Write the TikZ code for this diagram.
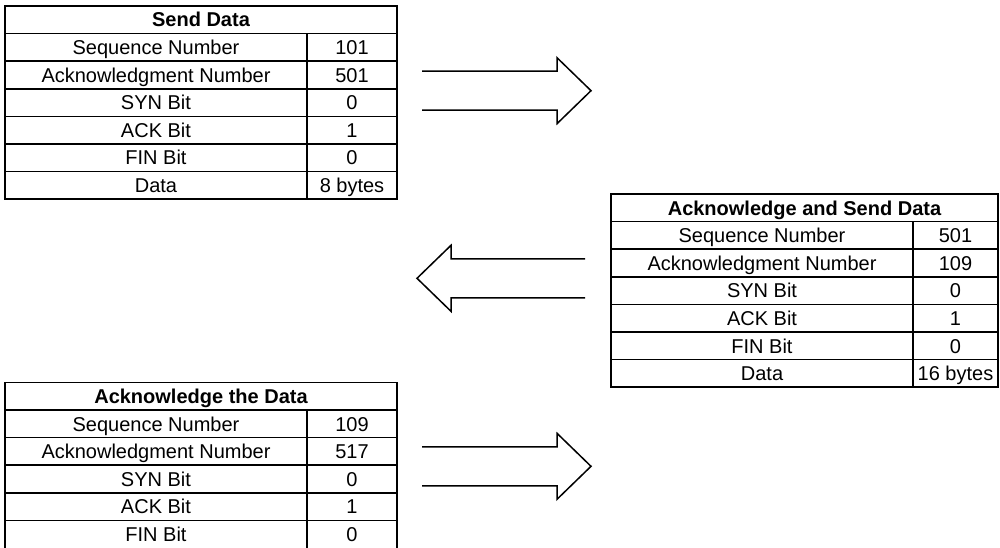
\documentclass[tikz,border=0pt]{standalone}
\usepackage{fontspec}
\setmainfont{Liberation Sans}
\usepackage{tikz}
\tikzset{
  gridline/.style={black, line width=0.75pt},
  arrowline/.style={black, line width=0.75pt, line join=miter},
  celltext/.style={anchor=base, inner sep=0pt, font=\fontsize{10}{12}\selectfont},
  titletext/.style={celltext, font=\fontsize{10}{12}\selectfont\bfseries}
}

\begin{document}
\begin{tikzpicture}[x=0.5pt, y=0.5pt]
    \useasboundingbox (0,0) rectangle (1000,547);
    \clip (0,0) rectangle (1000,547);
    \newcommand{\hollowarrow}[4]{%
      \draw[arrowline] (#1,#4+19.5) -- (#2,#4+19.5) -- (#2,#4+33) -- (#3,#4)
        -- (#2,#4-33) -- (#2,#4-19.5) -- (#1,#4-19.5);%
    }
    % Send Data
    \draw[gridline] (5,541) rectangle (397,347.8);
    \draw[gridline] (307,513.4) -- (307,347.8);
    \foreach \yl in {513.4, 485.8, 458.2, 430.6, 403.0, 375.4}{
      \draw[gridline] (5,\yl) -- (397,\yl);
    }
    \node[titletext] (send-title) at (201,520) {Send Data};
    \foreach \i/\lbl/\val in {1/Sequence Number/101, 2/Acknowledgment Number/501,
        3/SYN Bit/0, 4/ACK Bit/1, 5/FIN Bit/0, 6/Data/8 bytes}{
      \pgfmathsetmacro{\ytik}{520-27.6*\i}
      \node[celltext] (send-lbl\i) at (156,\ytik) {\lbl};
      \node[celltext] (send-val\i) at (352,\ytik) {\val};
    }
    % Acknowledge and Send Data
    \draw[gridline] (611,353) rectangle (998,159.8);
    \draw[gridline] (913,325.4) -- (913,159.8);
    \foreach \yl in {325.4, 297.8, 270.2, 242.6, 215.0, 187.4}{
      \draw[gridline] (611,\yl) -- (998,\yl);
    }
    \node[titletext] (acksend-title) at (804.5,332) {Acknowledge and Send Data};
    \foreach \i/\lbl/\val in {1/Sequence Number/501, 2/Acknowledgment Number/109,
        3/SYN Bit/0, 4/ACK Bit/1, 5/FIN Bit/0, 6/Data/16 bytes}{
      \pgfmathsetmacro{\ytik}{332-27.6*\i}
      \node[celltext] (acksend-lbl\i) at (762,\ytik) {\lbl};
      \node[celltext] (acksend-val\i) at (955.5,\ytik) {\val};
    }
    % Acknowledge the Data
    \draw[gridline] (5,-1) -- (5,164.6) -- (397,164.6) -- (397,-1);
    \draw[gridline] (307,137) -- (307,-1);
    \foreach \yl in {137.0, 109.4, 81.8, 54.2, 26.6}{
      \draw[gridline] (5,\yl) -- (397,\yl);
    }
    \node[titletext] (ackdata-title) at (201,143.6) {Acknowledge the Data};
    \foreach \i/\lbl/\val in {1/Sequence Number/109, 2/Acknowledgment Number/517,
        3/SYN Bit/0, 4/ACK Bit/1, 5/FIN Bit/0}{
      \pgfmathsetmacro{\ytik}{143.6-27.6*\i}
      \node[celltext] (ackdata-lbl\i) at (156,\ytik) {\lbl};
      \node[celltext] (ackdata-val\i) at (352,\ytik) {\val};
    }
    % Arrows
    \hollowarrow{422}{557}{591}{456.3}
    \hollowarrow{585}{451}{417}{268.7}
    \hollowarrow{422}{557}{591}{80.7}
\end{tikzpicture}
\end{document}
